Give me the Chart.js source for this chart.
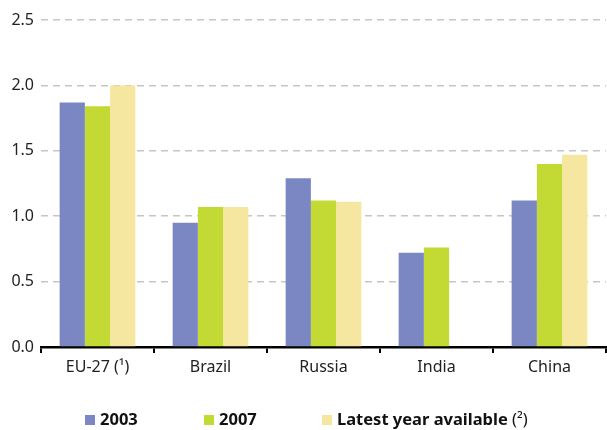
<!DOCTYPE html>
<html>
<head>
<meta charset="utf-8">
<script src="https://cdn.jsdelivr.net/npm/chart.js@4/dist/chart.umd.min.js"></script>
<style>
  html, body { margin: 0; padding: 0; background: #fff; }
  #wrap { width: 607px; height: 430px; position: relative; }
</style>
</head>
<body>
<div id="wrap"><canvas id="c"></canvas></div>
<script>
// Categories and series values
const categories = ['EU-27 (\u00B9)', 'Brazil', 'Russia', 'India', 'China'];
const seriesNames = ['2003', '2007', 'Latest year available'];
const seriesNotes = ['', '', ' (\u00B2)'];
const values2003 = [1.87, 0.95, 1.29, 0.72, 1.12];
const values2007 = [1.84, 1.07, 1.12, 0.76, 1.40];
const valuesLatest = [2.00, 1.07, 1.11, null, 1.47];
const yTicks = [0.0, 0.5, 1.0, 1.5, 2.0, 2.5];

const colors = ['#7b87c3', '#c3d934', '#f5e6a0'];
const FONT = '"Noto Sans", "Open Sans", sans-serif';

// Bottom legend: bold series name followed by a regular-weight footnote mark
const bottomLegend = {
  id: 'bottomLegend',
  afterDraw(chart) {
    const ctx = chart.ctx;
    const starts = [85, 204, 322];
    const y = 420;
    ctx.save();
    ctx.textBaseline = 'middle';
    chart.data.datasets.forEach((ds, i) => {
      const x = starts[i];
      ctx.fillStyle = ds.backgroundColor;
      ctx.fillRect(x, y - 5, 10, 10);
      ctx.fillStyle = '#111';
      ctx.font = 'bold 16.5px ' + FONT;
      ctx.fillText(seriesNames[i], x + 15, y);
      if (seriesNotes[i]) {
        const w = ctx.measureText(seriesNames[i]).width;
        ctx.font = '16.5px ' + FONT;
        ctx.fillText(seriesNotes[i], x + 15 + w, y);
      }
    });
    ctx.restore();
  }
};

new Chart(document.getElementById('c'), {
  type: 'bar',
  data: {
    labels: categories,
    datasets: [
      { label: seriesNames[0], data: values2003, backgroundColor: colors[0] },
      { label: seriesNames[1], data: values2007, backgroundColor: colors[1] },
      { label: seriesNames[2] + seriesNotes[2], data: valuesLatest, backgroundColor: colors[2] }
    ]
  },
  plugins: [bottomLegend],
  options: {
    responsive: true,
    maintainAspectRatio: false,
    animation: false,
    layout: { padding: { top: 20, right: 1, left: 0, bottom: 0 } },
    datasets: { bar: { categoryPercentage: 0.67, barPercentage: 1.0 } },
    plugins: {
      tooltip: { enabled: false },
      legend: { display: false }
    },
    scales: {
      x: {
        afterFit: (s) => { s.height = 83; },
        border: { display: true, color: '#000', width: 2.5 },
        grid: {
          offset: true,
          drawOnChartArea: false,
          drawTicks: true,
          tickLength: 6,
          color: '#000',
          lineWidth: 2
        },
        ticks: { color: '#222', padding: 5, font: { family: FONT, size: 16 } }
      },
      y: {
        min: 0,
        max: 2.5,
        afterFit: (s) => { s.width = 41; },
        afterBuildTicks: (s) => { s.ticks = yTicks.map(v => ({ value: v })); },
        border: { display: false, dash: [7, 5] },
        grid: {
          drawTicks: false,
          color: (ctx) => ctx.tick && ctx.tick.value === 0 ? 'rgba(0,0,0,0)' : '#c6c6c6',
          lineWidth: 1.5
        },
        ticks: {
          color: '#222',
          padding: 7,
          font: { family: FONT, size: 16 },
          callback: (v) => Number(v).toFixed(1)
        }
      }
    }
  }
});
</script>
</body>
</html>
